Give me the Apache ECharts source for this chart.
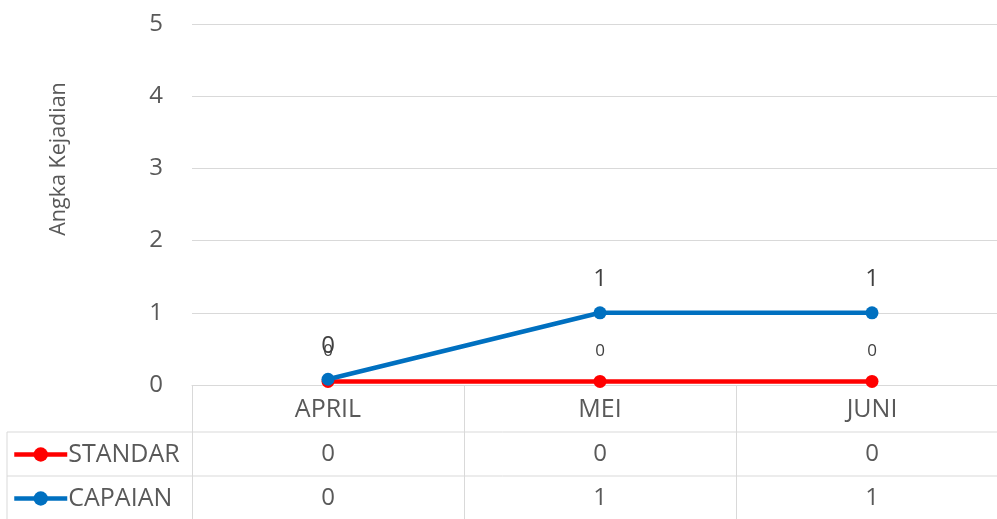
<!DOCTYPE html>
<html>
<head>
<meta charset="utf-8">
<script src="https://cdn.jsdelivr.net/npm/echarts@6/dist/echarts.min.js"></script>
<style>html,body{margin:0;padding:0;background:#fff}#c{width:997px;height:519px}</style>
</head>
<body>
<div id="c"></div>
<script>
var categories = ['APRIL', 'MEI', 'JUNI'];
var standar = [0.05, 0.05, 0.05];
var capaian = [0.08, 1, 1];
var yTicks = [0, 1, 2, 3, 4, 5];
var seriesNames = ['STANDAR', 'CAPAIAN'];
var yTitle = 'Angka Kejadian';

var FONT = '"Open Sans", sans-serif';
var TXT = '#595959';
var GRID = '#d9d9d9';
function fmt(v) { return String(Math.round(v)); }

var chart = echarts.init(document.getElementById('c'));
var gl = 192, gt = 24, gr = 1008, gb = 385, H = 519;
var tableLeft = 7, row1 = 432, row2 = 476;

function tableAxis(arr, offset) {
  return {
    type: 'category', data: categories, position: 'bottom', offset: offset,
    axisLine: {show: false}, axisTick: {show: false}, splitLine: {show: false},
    axisLabel: {margin: 0, verticalAlign: 'middle', fontSize: 24, color: TXT, fontFamily: FONT,
      formatter: function (v, i) { return fmt(arr[i]); }}
  };
}

chart.setOption({
  animation: false,
  grid: {left: gl, top: gt, width: gr - gl, height: gb - gt, containLabel: false, outerBoundsMode: 'none'},
  legend: {
    orient: 'vertical', left: 12, top: 442, padding: 0, itemWidth: 53, itemHeight: 18, itemGap: 19,
    data: seriesNames,
    lineStyle: {width: 4.5},
    textStyle: {fontSize: 25, lineHeight: 25, color: TXT, fontFamily: FONT, padding: [0, 0, 0, -4]}
  },
  xAxis: [
    {
      type: 'category', data: categories, boundaryGap: true,
      axisLine: {show: true, lineStyle: {color: GRID, width: 1}},
      axisTick: {show: true, length: H - gb, lineStyle: {color: GRID, width: 1}},
      axisLabel: {margin: 12, fontSize: 25, color: TXT, fontFamily: FONT}
    },
    tableAxis(standar, 69),
    tableAxis(capaian, 113)
  ],
  yAxis: {
    type: 'value', min: yTicks[0], max: yTicks[yTicks.length - 1], interval: 1,
    axisLine: {show: false}, axisTick: {show: false},
    splitLine: {lineStyle: {color: GRID, width: 1}},
    axisLabel: {margin: 29, fontSize: 24, color: TXT, fontFamily: FONT}
  },
  graphic: [
    {type: 'text', x: 59, y: 159, rotation: Math.PI / 2,
      style: {text: yTitle, fontSize: 21.5, fill: TXT, fontFamily: FONT, align: 'center', verticalAlign: 'middle'}},
    {type: 'line', shape: {x1: tableLeft, y1: row1, x2: gr, y2: row1}, style: {stroke: GRID, lineWidth: 1}},
    {type: 'line', shape: {x1: tableLeft, y1: row2, x2: gr, y2: row2}, style: {stroke: GRID, lineWidth: 1}},
    {type: 'line', shape: {x1: tableLeft, y1: row1, x2: tableLeft, y2: H}, style: {stroke: GRID, lineWidth: 1}}
  ],
  series: [
    {
      name: seriesNames[0], type: 'line', data: standar,
      symbol: 'circle', symbolSize: 13,
      itemStyle: {color: '#ff0000'}, lineStyle: {color: '#ff0000', width: 4.5},
      label: {show: true, position: 'top', distance: 15, fontSize: 17, color: '#404040', fontFamily: FONT,
        formatter: function (p) { return fmt(p.value); }}
    },
    {
      name: seriesNames[1], type: 'line', data: capaian,
      symbol: 'circle', symbolSize: 13,
      itemStyle: {color: '#0070c0'}, lineStyle: {color: '#0070c0', width: 4.5},
      label: {show: true, position: 'top', distance: 15, fontSize: 24, color: '#404040', fontFamily: FONT,
        formatter: function (p) { return fmt(p.value); }}
    }
  ]
});
</script>
</body>
</html>
